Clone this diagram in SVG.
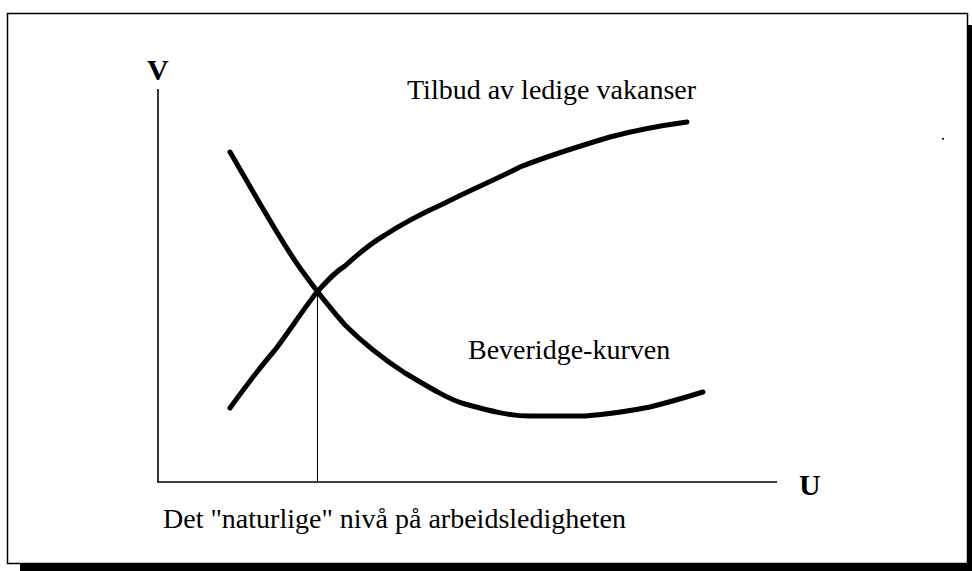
<svg xmlns="http://www.w3.org/2000/svg" width="972" height="571" viewBox="0 0 972 571">
<style>
.txt{font-family:"Liberation Serif","Times New Roman",serif;font-size:28px;fill:#000}
.bold{font-weight:bold;font-size:30px}
.axis{stroke:#000;stroke-width:1.6;fill:none}
.curve{stroke:#000;stroke-width:5;fill:none;stroke-linecap:round;stroke-linejoin:round}
</style>
<rect width="972" height="571" fill="#fff"/>
<g id="frame">
<rect x="7.5" y="13.5" width="960" height="550" fill="none" stroke="#000" stroke-width="1.5"/>
<rect x="967" y="25" width="5" height="546" fill="#000"/>
<rect x="20" y="564" width="952" height="7" fill="#000"/>
</g>
<g id="axes">
<line class="axis" x1="158" y1="89" x2="158" y2="482"/>
<line class="axis" x1="157" y1="482" x2="777" y2="482"/>
<text class="txt bold" x="147" y="80">V</text>
<text class="txt bold" x="799" y="495">U</text>
</g>
<g id="connectors">
<path id="beveridge" class="curve" d="M230,152 C255,195 280,240 300,268 S330,308 345,325 C365,345 385,360 405,373 C430,388 450,400 465,404 C490,411 510,416 530,416 L585,416 C610,414 630,411 650,407 C670,402 690,396 703,392"/>
<path id="tilbud" class="curve" d="M230,408 C248,383 262,365 275,350 C290,330 305,307 317,292 C328,280 335,272 345,266 C360,252 370,244 385,235 C405,222 425,212 445,203 C470,190 495,180 520,167 C550,155 580,146 610,137 C640,129 665,125 687,122"/>
<line id="natural" x1="317.5" y1="292" x2="317.5" y2="482" stroke="#000" stroke-width="1"/>
</g>
<g id="labels">
<text class="txt" x="407" y="99">Tilbud av ledige vakanser</text>
<text class="txt" x="468" y="359">Beveridge-kurven</text>
<text class="txt" x="163" y="528">Det "naturlige" nivå på arbeidsledigheten</text>
</g>
<rect x="942" y="138" width="2" height="1.5" fill="#000"/>
</svg>
